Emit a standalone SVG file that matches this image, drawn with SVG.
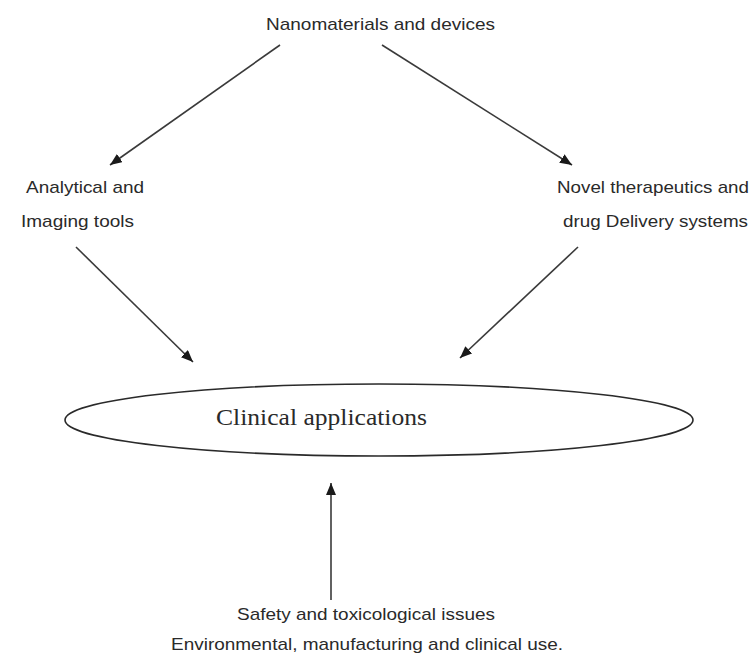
<svg xmlns="http://www.w3.org/2000/svg" width="750" height="654" viewBox="0 0 750 654">
<style>
.t{font-family:"Liberation Sans",Arial,sans-serif;font-size:17px;fill:#2a2a2a}
.c{stroke:#3a3a3a;stroke-width:1.6;fill:none}
</style>
<defs>
<marker id="ah" viewBox="0 0 12 10" refX="12" refY="5" markerWidth="12" markerHeight="10" markerUnits="userSpaceOnUse" orient="auto">
<path d="M0,0 L12,5 L0,10 z" fill="#1a1a1a"/>
</marker>
</defs>
<rect width="750" height="654" fill="#fff"/>
<g id="nano"><text class="t" x="266" y="30" textLength="229" lengthAdjust="spacingAndGlyphs">Nanomaterials and devices</text></g>
<g id="analytical"><text class="t" x="26" y="193" textLength="118" lengthAdjust="spacingAndGlyphs">Analytical and</text><text class="t" x="21" y="227" textLength="113" lengthAdjust="spacingAndGlyphs">Imaging tools</text></g>
<g id="novel"><text class="t" x="557" y="193" textLength="192" lengthAdjust="spacingAndGlyphs">Novel therapeutics and</text><text class="t" x="563" y="227" textLength="185" lengthAdjust="spacingAndGlyphs">drug Delivery systems</text></g>
<g id="clinical"><ellipse cx="379" cy="420" rx="314" ry="36" fill="none" stroke="#2a2a2a" stroke-width="1.6"/><text x="216" y="425" textLength="211" lengthAdjust="spacingAndGlyphs" font-family="'Liberation Serif','Times New Roman',serif" font-size="24" fill="#2a2a2a">Clinical applications</text></g>
<g id="safety"><text class="t" x="237" y="620" textLength="258" lengthAdjust="spacingAndGlyphs">Safety and toxicological issues</text><text class="t" x="171" y="650" textLength="392" lengthAdjust="spacingAndGlyphs">Environmental, manufacturing and clinical use.</text></g>
<g id="connectors">
<line class="c" x1="280" y1="45" x2="110" y2="165" marker-end="url(#ah)"/>
<line class="c" x1="382" y1="45" x2="572" y2="165" marker-end="url(#ah)"/>
<line class="c" x1="76" y1="247" x2="193" y2="362" marker-end="url(#ah)"/>
<line class="c" x1="578" y1="247" x2="460" y2="358" marker-end="url(#ah)"/>
<line class="c" x1="331" y1="600" x2="331" y2="483" marker-end="url(#ah)"/>
</g>
</svg>
